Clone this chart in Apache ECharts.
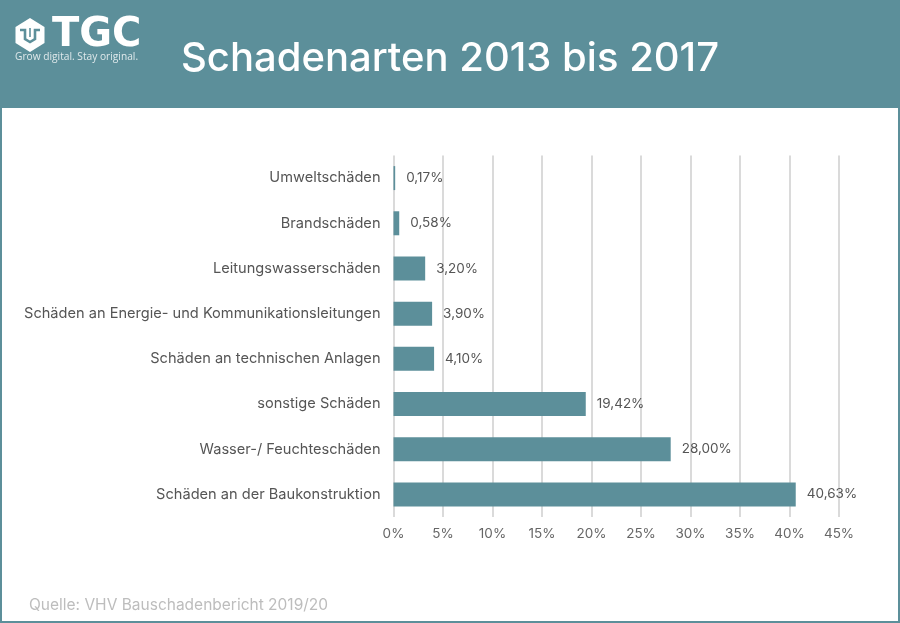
<!DOCTYPE html>
<html><head><meta charset="utf-8">
<style>html,body{margin:0;padding:0;background:#fff}#c{width:900px;height:623px}</style>
<script src="https://cdn.jsdelivr.net/npm/echarts@6/dist/echarts.min.js"></script>
</head><body><div id="c"></div>
<script>
const categories = ["Schäden an der Baukonstruktion","Wasser-/ Feuchteschäden","sonstige Schäden","Schäden an technischen Anlagen","Schäden an Energie- und Kommunikationsleitungen","Leitungswasserschäden","Brandschäden","Umweltschäden"];
const values = [40.63,28.00,19.42,4.10,3.90,3.20,0.58,0.17];
const titleText = "Schadenarten 2013 bis 2017";
const sourceText = "Quelle: VHV Bauschadenbericht 2019/20";
const teal = "#5c8f9a";
const font = "Inter";
const chart = echarts.init(document.getElementById("c"), null, {renderer:"canvas"});
chart.setOption({
  animation:false,
  backgroundColor:"#fff",
  title:[
    {text:titleText,left:176,top:34,textStyle:{color:"#fff",fontFamily:font,fontSize:40,fontWeight:500}},
    {text:sourceText,left:24,top:592,textStyle:{color:"#bdbdbd",fontFamily:font,fontSize:15.5,fontWeight:400}}
  ],
  graphic:[
    {type:"rect",z:-1,silent:true,shape:{x:0,y:0,width:900,height:108},style:{fill:teal}},
    {type:"rect",z:-1,silent:true,shape:{x:0,y:108,width:2,height:515},style:{fill:teal}},
    {type:"rect",z:-1,silent:true,shape:{x:898,y:108,width:2,height:515},style:{fill:teal}},
    {type:"rect",z:-1,silent:true,shape:{x:0,y:621,width:900,height:2},style:{fill:teal}},
    {type:"polygon",silent:true,shape:{points:[[30,18],[44.5,27],[44.5,43],[30,52],[15.5,43],[15.5,27]]},style:{fill:"#fff"}},
    {type:"polyline",silent:true,shape:{points:[[20,30],[25,30],[25,39],[30,42],[35,39],[35,30],[40,30]]},style:{fill:null,stroke:teal,lineWidth:2.6}},
    {type:"polyline",silent:true,shape:{points:[[30,28],[30,37]]},style:{fill:null,stroke:teal,lineWidth:1.6}},
    {type:"text",silent:true,x:52,y:16,style:{text:"TGC",fill:"#fff",fontFamily:"DejaVu Sans",fontWeight:"bold",fontSize:40}},
    {type:"text",silent:true,x:15,y:52,style:{text:"Grow digital. Stay original.",fill:"#dfe9eb",fontFamily:"Open Sans",fontSize:10.2}}
  ],
  grid:{left:393.5,top:155.5,width:445.5,height:361.5,containLabel:false},
  xAxis:{type:"value",min:0,max:45,interval:5,
    axisLine:{show:false},axisTick:{show:false},
    axisLabel:{formatter:"{value}%",color:"#666",fontFamily:font,fontSize:13.5,margin:10,fontWeight:400},
    splitLine:{show:true,lineStyle:{color:"#dadada",width:2}}},
  yAxis:{type:"category",data:categories,
    axisLine:{show:false},axisTick:{show:false},
    axisLabel:{color:"#555",fontFamily:font,fontSize:14.6,margin:13,fontWeight:400}},
  series:[{type:"bar",data:values,barWidth:24,
    itemStyle:{color:teal},
    label:{show:true,position:"right",distance:11,color:"#555",fontFamily:font,fontSize:13.5,fontWeight:400,
      formatter:p=>p.value.toFixed(2).replace(".",",")+"%"}}]
});
</script></body></html>
